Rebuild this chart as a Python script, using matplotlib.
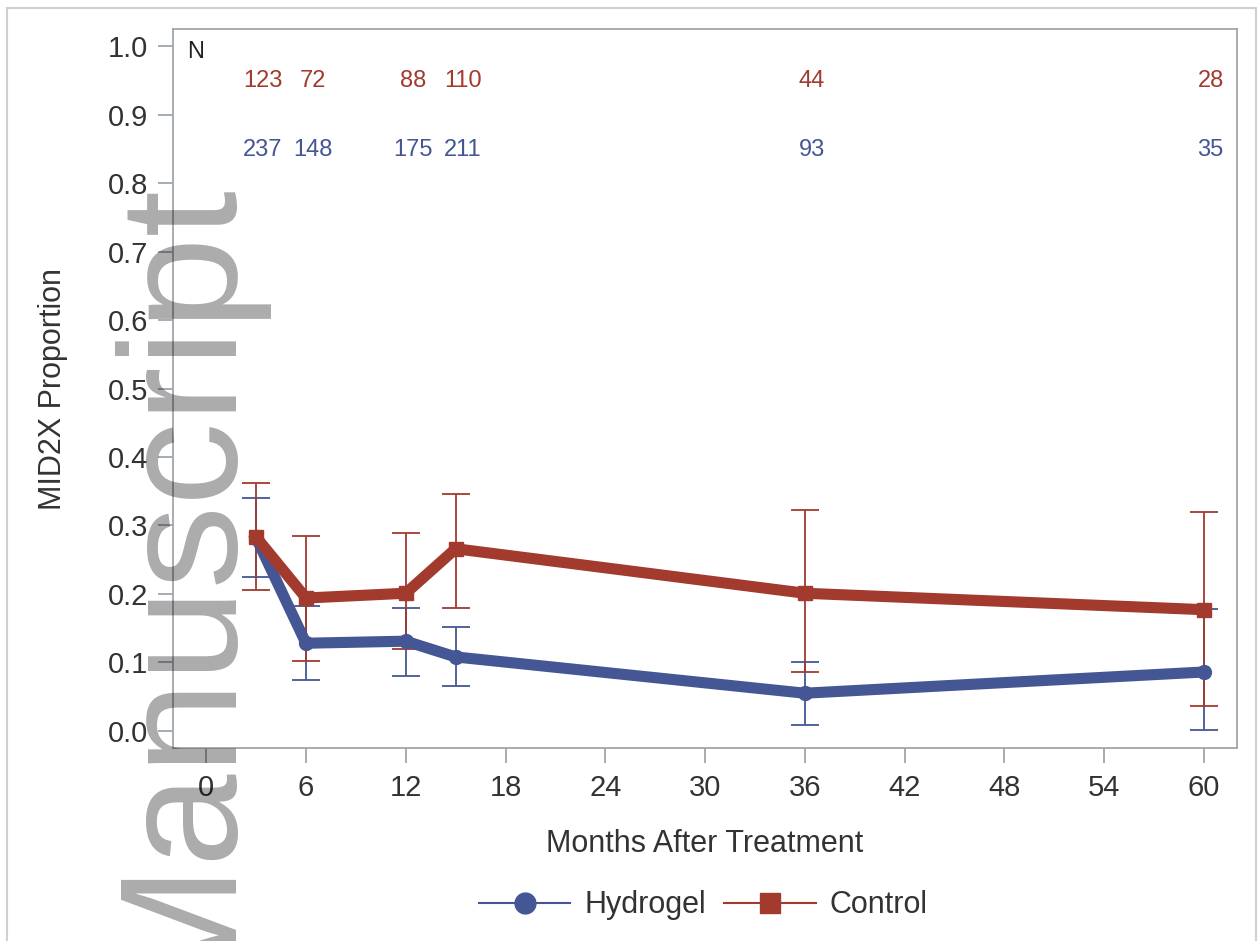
import matplotlib
matplotlib.use("Agg")
import matplotlib.pyplot as plt
from matplotlib.patches import Rectangle
from matplotlib.lines import Line2D

plt.rcParams['font.family'] = ['Liberation Sans', 'DejaVu Sans']

# data
months = [3, 6, 12, 15, 36, 60]
hydrogel = [0.282, 0.128, 0.131, 0.108, 0.055, 0.086]
hydrogel_lo = [0.225, 0.074, 0.080, 0.066, 0.009, 0.001]
hydrogel_hi = [0.340, 0.182, 0.180, 0.152, 0.101, 0.178]
control = [0.283, 0.194, 0.201, 0.266, 0.201, 0.177]
control_lo = [0.206, 0.102, 0.120, 0.180, 0.086, 0.036]
control_hi = [0.362, 0.285, 0.289, 0.346, 0.323, 0.320]
n_control = [123, 72, 88, 110, 44, 28]
n_hydrogel = [237, 148, 175, 211, 93, 35]
x_ticks = [0, 6, 12, 18, 24, 30, 36, 42, 48, 54, 60]
y_ticks = [0.0, 0.1, 0.2, 0.3, 0.4, 0.5, 0.6, 0.7, 0.8, 0.9, 1.0]

blue = '#445694'
red = '#A23A2E'
frame = '#A0A5AD'
text_c = '#333333'

fig = plt.figure(figsize=(12.58, 9.41), dpi=100)
ax = fig.add_axes([173 / 1258, 1 - 748 / 941, (1237 - 173) / 1258, (748 - 29) / 941])
ax.set_facecolor('white')

# error bars
for vals, lo, hi, c in [(hydrogel, hydrogel_lo, hydrogel_hi, blue),
                        (control, control_lo, control_hi, red)]:
    err = [[v - l for v, l in zip(vals, lo)], [h - v for v, h in zip(vals, hi)]]
    ax.errorbar(months, vals, yerr=err, fmt='none', ecolor=c, elinewidth=1.3,
                capsize=10, capthick=1.3, zorder=2)

# thick mean lines
ax.plot(months, hydrogel, color=blue, lw=8, marker='o', ms=10, zorder=3)
ax.plot(months, control, color=red, lw=8, marker='s', ms=10, zorder=4)

# N counts at the top
ax.text(0.0216, 0.968, 'N', transform=ax.transAxes, ha='center', va='center',
        fontsize=17, color='#222222')
for m, n in zip(months, n_control):
    ax.annotate(str(n), (m, 0.949), xytext=(5, 0), textcoords='offset points',
                ha='center', va='center', fontsize=17, color=red)
for m, n in zip(months, n_hydrogel):
    ax.annotate(str(n), (m, 0.848), xytext=(5, 0), textcoords='offset points',
                ha='center', va='center', fontsize=17, color=blue)

ax.set_xlim(-2, 62)
ax.set_ylim(-0.025, 1.025)
ax.set_xticks(x_ticks)
ax.set_yticks(y_ticks)
ax.set_yticklabels([f'{v:.1f}' for v in y_ticks])
ax.tick_params(axis='both', direction='out', length=11, width=1.3, color=frame,
               labelsize=21, labelcolor=text_c)
ax.tick_params(axis='x', pad=8)
ax.tick_params(axis='y', pad=7)
for s in ax.spines.values():
    s.set_color(frame)
    s.set_linewidth(1.3)

ax.set_xlabel('Months After Treatment', fontsize=22, color=text_c)
ax.xaxis.set_label_coords(0.5, -0.113)
ax.set_ylabel('MID2X Proportion', fontsize=22, color=text_c)
ax.yaxis.set_label_coords(-0.099, 0.5)

# legend
handles = [Line2D([], [], color=blue, lw=1.5, marker='o', ms=15),
           Line2D([], [], color=red, lw=1.5, marker='s', ms=15)]
fig.legend(handles, ['Hydrogel', 'Control'], loc='center', bbox_to_anchor=(0.559, 0.038),
           ncol=2, frameon=False, fontsize=22, handlelength=3.0, handletextpad=0.45,
           columnspacing=0.6, labelcolor=text_c)

# outer border
fig.patches.append(Rectangle((7 / 1258, -0.05), 1249 / 1258, 1.05 - 8 / 941,
                             transform=fig.transFigure, fill=False,
                             edgecolor='#d0d0d0', lw=1.5))

# watermark
fig.text(223 / 1258, 1 - 176 / 941, 'Manuscript', rotation=90, rotation_mode='anchor',
         ha='right', va='baseline', fontsize=120, color='black', alpha=0.33, zorder=10)

fig.savefig('out.png', dpi=100)
